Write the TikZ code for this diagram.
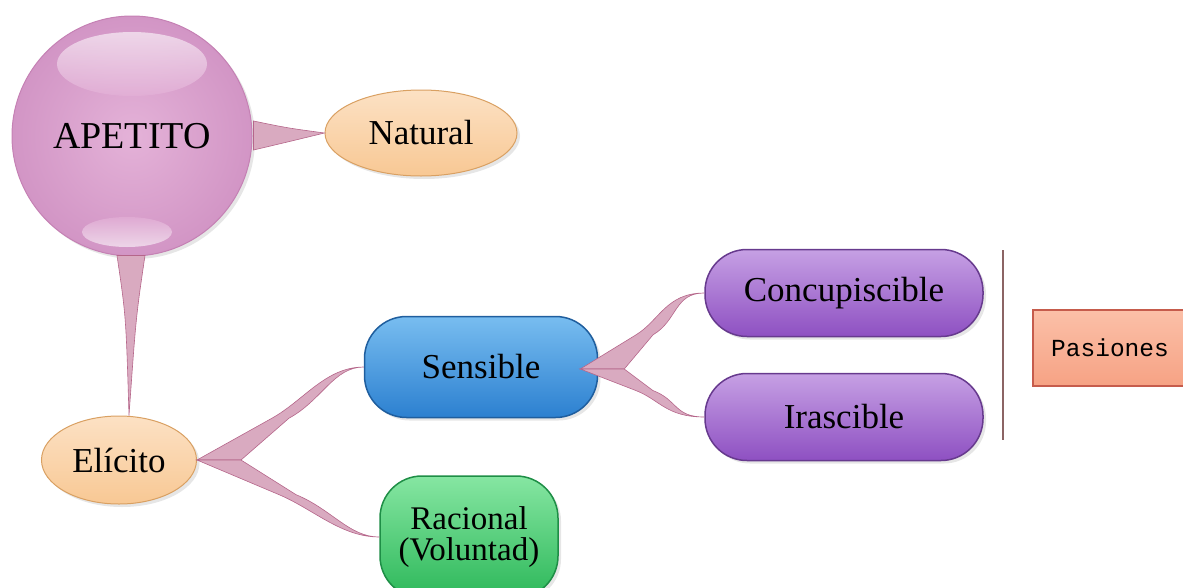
\documentclass[tikz,border=0pt]{standalone}
\usepackage{fontspec}
\setmainfont{Liberation Serif}
\newfontfamily\courierfont{Liberation Mono}
\usepackage{tikz}
\usetikzlibrary{calc,shapes.geometric,shadows}
\definecolor{ballIn}{HTML}{E4B2D8}
\definecolor{ballOut}{HTML}{D295C5}
\definecolor{ballEdge}{HTML}{C581B4}
\definecolor{ovalTop}{HTML}{FCE1C4}
\definecolor{ovalBot}{HTML}{F8C894}
\definecolor{ovalEdge}{HTML}{D9A062}
\definecolor{blueTop}{HTML}{78BDF0}
\definecolor{blueBot}{HTML}{2C80D0}
\definecolor{blueEdge}{HTML}{1F5E9E}
\definecolor{greenTop}{HTML}{86E6A2}
\definecolor{greenBot}{HTML}{2DB85A}
\definecolor{greenEdge}{HTML}{1E8E46}
\definecolor{violetTop}{HTML}{C6A0E4}
\definecolor{violetBot}{HTML}{8E50C2}
\definecolor{violetEdge}{HTML}{673A8E}
\definecolor{salmonTop}{HTML}{FBC0A8}
\definecolor{salmonBot}{HTML}{F6A284}
\definecolor{salmonEdge}{HTML}{C65C4C}
\definecolor{connFill}{HTML}{D9AAC0}
\definecolor{connEdge}{HTML}{B5668A}
\definecolor{barLine}{HTML}{8C6464}
\tikzset{%
  every bubble/.style={
    font=\fontsize{35}{31}\selectfont,
    inner sep=0pt,
    align=center,
    drop shadow={opacity=0.2, shadow xshift=3pt, shadow yshift=-3pt}
  },
  ball/.style={
    circle,
    minimum size=240pt,
    draw=ballEdge,
    line width=1pt,
    inner color=ballIn,
    outer color=ballOut
  },
  oval/.style={
    ellipse,
    draw=ovalEdge,
    line width=1pt,
    top color=ovalTop,
    bottom color=ovalBot
  },
  pill/.style={
    rectangle,
    rounded corners=42pt,
    line width=1.5pt
  },
  blue pill/.style={pill, draw=blueEdge, top color=blueTop, bottom color=blueBot},
  green pill/.style={pill, draw=greenEdge, top color=greenTop, bottom color=greenBot},
  violet pill/.style={pill, draw=violetEdge, top color=violetTop, bottom color=violetBot},
  note/.style={
    rectangle,
    draw=salmonEdge,
    line width=1.2pt,
    top color=salmonTop,
    bottom color=salmonBot,
    minimum width=154pt,
    minimum height=76pt,
    font=\courierfont\fontsize{24.5}{26}\selectfont
  },
  wedge/.style={fill=connFill, draw=connEdge, line width=0.6pt},
  bar/.style={draw=barLine, line width=1.2pt},
}
\newcommand{\branch}[2]{%
  \draw[wedge] (#1) -- ($(#1)!0.45!(#2)$)
    .. controls ($(#1)!0.64!(#2)$) and ($(#2)+(-38,0)$) .. (#2)
    .. controls ($(#2)+(-30,0)$) and ($(#1)!0.64!(#2)+(18,0)$) .. ($(#1)!0.45!(#2)+(17,0)$)
    -- ($(#1)+(44,0)$) -- cycle;}

\begin{document}
\begin{tikzpicture}[x=1pt, y=-1pt]
  \useasboundingbox (0,0) rectangle (1183,587);

  \node [every bubble, ball, font=\fontsize{38}{38}\selectfont] (apetito) at (132,136) {APETITO};
  \shade [top color=white, bottom color=ballIn, opacity=0.6]
    ($(apetito.center)+(0,-72)$) ellipse [x radius=75pt, y radius=32pt];
  \shade [top color=ballIn, bottom color=white, opacity=0.6]
    ($(apetito.center)+(-5,96)$) ellipse [x radius=45pt, y radius=15pt];

  \node [every bubble, oval, minimum width=192pt, minimum height=86pt] (natural) at (421,133) {Natural};
  \node [every bubble, oval, minimum width=155pt, minimum height=88pt] (elicito) at (119,460) {Elícito};

  \node [every bubble, blue pill, minimum width=233pt, minimum height=101pt] (sensible) at (481,367) {Sensible};
  \node [every bubble, green pill, minimum width=178pt, minimum height=122pt,
         font=\fontsize{33}{31}\selectfont] (racional) at (469,537) {Racional\\(Voluntad)};

  \foreach \l/\y [count=\i] in {Concupiscible/293, Irascible/417}
    \node [every bubble, violet pill, minimum width=278pt, minimum height=87pt] (pasion-\i) at (844,\y) {\l};

  \coordinate (bar-top) at (1003,250);
  \coordinate (bar-bottom) at (1003,440);
  \draw [bar] (bar-top) -- (bar-bottom);
  \node [note] (pasiones) at (1110,348) {Pasiones};

  \draw [wedge] ($(apetito.east)+(1,-15)$) .. controls ($(apetito.east)+(35,-8)$) .. (natural.west)
    .. controls ($(apetito.east)+(35,6)$) .. ($(apetito.east)+(1,14)$) -- cycle;
  \draw [wedge] ($(apetito.south)+(-15,-1)$) .. controls ($(apetito.south)+(-6,60)$) .. ($(elicito.north)+(10,0)$)
    .. controls ($(apetito.south)+(4,60)$) .. ($(apetito.south)+(13,-1)$) -- cycle;

  \foreach \c in {sensible, racional}
    \branch{elicito.east}{\c.west};

  \coordinate (fork) at ($(sensible.east)+(-18,2)$);
  \foreach \i in {1,2}
    \branch{fork}{pasion-\i.west};
\end{tikzpicture}
\end{document}
